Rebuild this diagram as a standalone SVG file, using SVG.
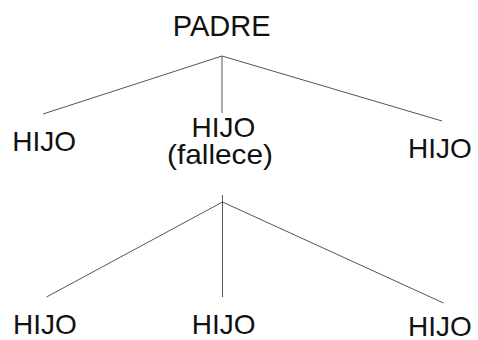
<svg xmlns="http://www.w3.org/2000/svg" width="478" height="340" viewBox="0 0 478 340">
<style>
text{font-family:"Liberation Sans",Arial,sans-serif;font-size:28px;fill:#111;text-anchor:middle}
.c line{stroke:#555;stroke-width:1;fill:none}
</style>
<rect width="478" height="340" fill="#fff"/>
<g class="c" id="connectors">
<line x1="222" y1="56" x2="43" y2="114"/>
<line x1="222" y1="56" x2="222" y2="113"/>
<line x1="222" y1="56" x2="442" y2="121"/>
<line x1="222.5" y1="195" x2="222.5" y2="297"/>
<line x1="222.5" y1="202" x2="46.5" y2="297"/>
<line x1="222.5" y1="202" x2="443.5" y2="303"/>
</g>
<g id="padre"><text x="221.7" y="36" style="font-size:29px">PADRE</text></g>
<g id="hijo1"><text x="44.2" y="150.5">HIJO</text></g>
<g id="hijo2"><text x="223.3" y="136.5">HIJO</text><text x="220" y="163.5" textLength="106" lengthAdjust="spacingAndGlyphs">(fallece)</text></g>
<g id="hijo3"><text x="440" y="158">HIJO</text></g>
<g id="nieto1"><text x="44.8" y="334">HIJO</text></g>
<g id="nieto2"><text x="223.7" y="334">HIJO</text></g>
<g id="nieto3"><text x="440" y="336">HIJO</text></g>
</svg>
